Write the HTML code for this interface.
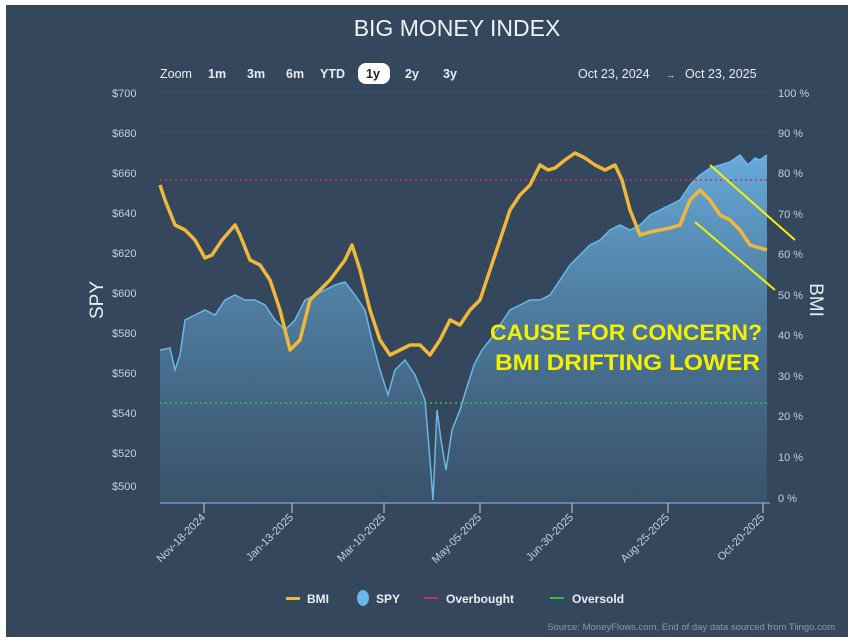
<!DOCTYPE html>
<html><head><style>
body{margin:0;background:#fff;}
svg{display:block;font-family:"Liberation Sans",sans-serif;}
</style></head><body>
<svg width="854" height="644" viewBox="0 0 854 644">
<defs>
<linearGradient id="g" x1="0" y1="0" x2="0" y2="1">
<stop offset="0" stop-color="#69b0e0" stop-opacity="0.95"/>
<stop offset="1" stop-color="#3d5a75" stop-opacity="0.6"/>
</linearGradient>
</defs>
<rect x="0" y="0" width="854" height="644" fill="#fff"/>
<rect x="6" y="5" width="842" height="632" fill="#34475c"/>
<text x="457" y="36" text-anchor="middle" fill="#eef2f6" font-size="23">BIG MONEY INDEX</text>
<g font-size="12.5" fill="#e8edf2">
<text x="160" y="78">Zoom</text>
<g font-weight="bold"><text x="208" y="78">1m</text><text x="247" y="78">3m</text><text x="286" y="78">6m</text><text x="320" y="78">YTD</text>
<rect x="358" y="63" width="32" height="21" rx="8" fill="#fff"/><text x="366" y="78" fill="#222">1y</text>
<text x="405" y="78">2y</text><text x="443" y="78">3y</text></g>
<text x="578" y="78">Oct 23, 2024</text><text x="666" y="78" font-size="9">→</text><text x="685" y="78">Oct 23, 2025</text>
</g>
<g font-size="11" fill="#c6cfd8">
<text x="112" y="97">$700</text><text x="112" y="137">$680</text><text x="112" y="177">$660</text><text x="112" y="217">$640</text><text x="112" y="257">$620</text><text x="112" y="297">$600</text><text x="112" y="337">$580</text><text x="112" y="377">$560</text><text x="112" y="417">$540</text><text x="112" y="457">$520</text><text x="112" y="490">$500</text>
<text x="778" y="97">100 %</text><text x="778" y="137">90 %</text><text x="778" y="177">80 %</text><text x="778" y="218">70 %</text><text x="778" y="258">60 %</text><text x="778" y="299">50 %</text><text x="778" y="339">40 %</text><text x="778" y="380">30 %</text><text x="778" y="420">20 %</text><text x="778" y="461">10 %</text><text x="778" y="502">0 %</text>
</g>
<g stroke="#41556a" stroke-width="1">
<line x1="160" y1="92" x2="770" y2="92"/><line x1="160" y1="132" x2="770" y2="132"/>
</g>
<text transform="translate(103,300) rotate(-90)" text-anchor="middle" fill="#e8edf2" font-size="19">SPY</text>
<text transform="translate(810,300) rotate(90)" text-anchor="middle" fill="#e8edf2" font-size="19">BMI</text>
<path d="M160,350 L170,348 L175,370 L180,355 L185,320 L195,315 L205,310 L215,315 L225,300 L235,295 L245,300 L255,300 L265,305 L275,320 L285,330 L295,320 L305,300 L315,295 L325,290 L335,285 L345,282 L355,295 L365,310 L372,340 L380,370 L388,395 L395,370 L405,360 L415,375 L425,400 L430,460 L433,500 L437,410 L441,440 L446,470 L452,430 L460,410 L466,390 L474,365 L482,350 L490,340 L500,325 L510,310 L520,305 L530,300 L540,300 L550,295 L560,280 L570,265 L580,255 L590,245 L600,240 L610,230 L620,225 L630,230 L640,225 L650,215 L660,210 L670,205 L680,200 L690,185 L700,175 L710,168 L720,165 L730,162 L740,155 L748,165 L755,158 L760,160 L767,155 L767,503 L160,503 Z" fill="url(#g)"/>
<path d="M160,350 L170,348 L175,370 L180,355 L185,320 L195,315 L205,310 L215,315 L225,300 L235,295 L245,300 L255,300 L265,305 L275,320 L285,330 L295,320 L305,300 L315,295 L325,290 L335,285 L345,282 L355,295 L365,310 L372,340 L380,370 L388,395 L395,370 L405,360 L415,375 L425,400 L430,460 L433,500 L437,410 L441,440 L446,470 L452,430 L460,410 L466,390 L474,365 L482,350 L490,340 L500,325 L510,310 L520,305 L530,300 L540,300 L550,295 L560,280 L570,265 L580,255 L590,245 L600,240 L610,230 L620,225 L630,230 L640,225 L650,215 L660,210 L670,205 L680,200 L690,185 L700,175 L710,168 L720,165 L730,162 L740,155 L748,165 L755,158 L760,160 L767,155" fill="none" stroke="#6ab8e8" stroke-width="1.5"/>
<line x1="160" y1="180" x2="770" y2="180" stroke="#c0306a" stroke-width="1.5" stroke-dasharray="2,3"/>
<line x1="160" y1="403" x2="770" y2="403" stroke="#30c040" stroke-width="1.5" stroke-dasharray="2,3"/>
<path d="M160,185 L165,200 L175,225 L185,230 L195,240 L205,258 L212,255 L222,240 L235,225 L240,235 L250,260 L260,265 L270,280 L280,310 L290,350 L300,340 L310,300 L320,290 L330,280 L345,260 L352,245 L360,270 L370,310 L380,340 L390,355 L400,350 L410,345 L420,345 L430,355 L440,340 L450,320 L460,325 L470,310 L480,300 L490,270 L500,240 L510,210 L520,195 L530,185 L540,165 L548,170 L555,168 L565,160 L575,153 L585,158 L595,165 L605,170 L615,165 L622,180 L630,210 L640,235 L650,232 L660,230 L670,228 L680,225 L690,200 L700,190 L710,200 L720,215 L730,220 L740,230 L750,245 L760,248 L767,250" fill="none" stroke="#f0b83a" stroke-width="3.5" stroke-linejoin="round"/>
<line x1="710" y1="165" x2="795" y2="240" stroke="#f4f000" stroke-width="2"/>
<line x1="695" y1="222" x2="775" y2="290" stroke="#f4f000" stroke-width="2"/>
<g fill="#f4f000" font-weight="bold" font-size="22">
<text x="490" y="340" textLength="272" lengthAdjust="spacingAndGlyphs">CAUSE FOR CONCERN?</text>
<text x="495" y="370" textLength="265" lengthAdjust="spacingAndGlyphs">BMI DRIFTING LOWER</text>
</g>
<line x1="160" y1="503" x2="770" y2="503" stroke="#6a9cc0" stroke-width="1.5"/>
<g stroke="#c6cfd8"><line x1="204" y1="503" x2="204" y2="513"/><line x1="292" y1="503" x2="292" y2="513"/><line x1="384" y1="503" x2="384" y2="513"/><line x1="480" y1="503" x2="480" y2="513"/><line x1="572" y1="503" x2="572" y2="513"/><line x1="668" y1="503" x2="668" y2="513"/><line x1="763" y1="503" x2="763" y2="513"/></g>
<g font-size="11" fill="#c6cfd8" text-anchor="end">
<text transform="translate(206,518) rotate(-45)">Nov-18-2024</text>
<text transform="translate(294,518) rotate(-45)">Jan-13-2025</text>
<text transform="translate(386,518) rotate(-45)">Mar-10-2025</text>
<text transform="translate(482,518) rotate(-45)">May-05-2025</text>
<text transform="translate(574,518) rotate(-45)">Jun-30-2025</text>
<text transform="translate(670,518) rotate(-45)">Aug-25-2025</text>
<text transform="translate(765,518) rotate(-45)">Oct-20-2025</text>
</g>
<g font-size="12" font-weight="bold" fill="#e8edf2">
<rect x="286" y="597" width="14" height="3" fill="#f0b83a"/><text x="307" y="603">BMI</text>
<ellipse cx="363" cy="598" rx="6" ry="8" fill="#6ab8e8"/><text x="376" y="603">SPY</text>
<rect x="424" y="597" width="14" height="2" fill="#c0306a"/><text x="446" y="603">Overbought</text>
<rect x="550" y="597" width="14" height="2" fill="#30c040"/><text x="572" y="603">Oversold</text>
</g>
<text x="835" y="630" text-anchor="end" font-size="9.5" fill="#8a9aab">Source: MoneyFlows.com, End of day data sourced from Tiingo.com</text>
</svg>
</body></html>
